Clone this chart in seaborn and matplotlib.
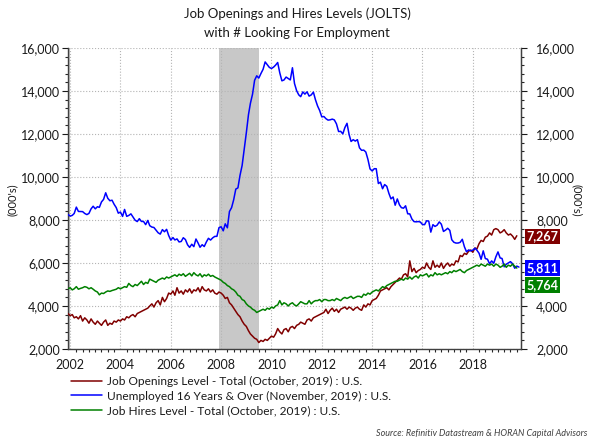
import pandas as pd
import matplotlib
matplotlib.use('Agg')
import matplotlib.pyplot as plt
import matplotlib.dates as mdates
from matplotlib.lines import Line2D
from matplotlib.ticker import MultipleLocator, FuncFormatter
import seaborn as sns

# monthly values (thousands), first month Dec 2001
openings = [3650,
    3550, 3600, 3450, 3500, 3400, 3550, 3300, 3450, 3350, 3200, 3400, 3250,
    3150, 3300, 3200, 3100, 3250, 3350, 3100, 3200, 3150, 3300, 3250, 3350,
    3300, 3400, 3350, 3500, 3450, 3550, 3600, 3500, 3650, 3700, 3750, 3800,
    3850, 3900, 4000, 4100, 3950, 4150, 4250, 4050, 4400, 4200, 4350, 4600,
    4550, 4700, 4500, 4850, 4600, 4700, 4550, 4750, 4650, 4800, 4600, 4750,
    4700, 4850, 4650, 4900, 4750, 4700, 4800, 4650, 4750, 4600, 4550, 4650,
    4600, 4500, 4350, 4400, 4150, 4050, 3900, 3750, 3600, 3500, 3300, 3150,
    3050, 2850, 2700, 2600, 2500, 2450, 2300, 2400, 2350, 2450, 2400, 2500,
    2600, 2550, 2700, 2950, 2800, 2700, 2900, 2950, 2800, 3000, 3050, 2950,
    3100, 3150, 3250, 3200, 3150, 3350, 3400, 3300, 3450, 3500, 3550, 3600,
    3650, 3700, 3850, 3650, 3800, 3900, 3750, 3850, 3700, 3850, 3900, 3950,
    3850, 3950, 3900, 3800, 3900, 3950, 3850, 3800, 4050, 3950, 4100, 4050,
    4250, 4300, 4350, 4500, 4700, 4750, 4800, 4850, 4750, 4900, 5000, 5100,
    5200, 5300, 5250, 5450, 5500, 5350, 6100, 5600, 5750, 5550, 5650, 5700,
    5800, 5750, 6000, 5800, 5700, 6100, 5800, 5900, 5800, 6000, 5750, 5900,
    6000, 5850, 5950, 5900, 6100, 6050, 6350, 6300, 6450, 6400, 6550, 6600,
    6500, 6700, 6650, 6900, 7050, 7000, 7200, 7250, 7400, 7300, 7550, 7600,
    7550, 7400, 7450, 7550, 7400, 7300, 7350, 7250, 7100, 7267]

unemployed = [8258,
    8182, 8215, 8304, 8599, 8399, 8393, 8390, 8304, 8251, 8307, 8520, 8640,
    8520, 8618, 8588, 8842, 8957, 9266, 9011, 8896, 8921, 8732, 8576, 8317,
    8370, 8167, 8491, 8170, 8212, 8286, 8136, 7990, 7927, 8061, 7932, 7934,
    7784, 7980, 7737, 7672, 7651, 7524, 7406, 7345, 7553, 7453, 7566, 7279,
    7064, 7184, 7072, 7120, 6980, 7001, 7175, 7091, 6847, 6727, 6872, 6762,
    7116, 6927, 6731, 6850, 6766, 6979, 7149, 7067, 7170, 7237, 7240, 7645,
    7685, 7497, 7822, 7637, 8395, 8575, 8937, 9438, 9494, 10074, 10538, 11286,
    12058, 12898, 13426, 13853, 14499, 14707, 14601, 14814, 15009, 15352, 15219, 15098,
    15046, 15113, 15202, 15325, 14849, 14474, 14512, 14648, 14579, 14516, 15081, 14348,
    14013, 13820, 13737, 13957, 13855, 13962, 13763, 13818, 13948, 13594, 13302, 13093,
    12797, 12813, 12713, 12646, 12660, 12692, 12656, 12471, 12115, 12124, 12005, 12298,
    12497, 11967, 11653, 11735, 11671, 11736, 11357, 11241, 11251, 11161, 10814, 10376,
    10280, 10387, 10384, 9696, 9761, 9453, 9648, 9568, 9237, 8983, 9071, 8688,
    8979, 8705, 8575, 8549, 8660, 8289, 8283, 8044, 7924, 7914, 7927, 7907,
    7791, 7784, 7964, 7948, 7436, 7783, 7701, 7760, 7911, 7804, 7468, 7530,
    7615, 7516, 7082, 6964, 6927, 6928, 6961, 7103, 6753, 6524, 6607, 6564,
    6600, 6688, 6595, 6456, 6171, 6565, 6207, 6177, 5963, 6097, 5987, 6286,
    6516, 6235, 6211, 5824, 5942, 6001, 6063, 5966, 5757, 5855, 5811]

hires = [4800,
    4850, 4750, 4800, 4900, 4780, 4820, 4850, 4900, 4870, 4800, 4850, 4780,
    4700, 4650, 4520, 4600, 4580, 4650, 4700, 4680, 4720, 4750, 4780, 4850,
    4800, 4850, 4900, 4870, 5050, 4950, 4900, 5000, 4950, 5050, 5150, 5000,
    5100, 5050, 5250, 5200, 5150, 5100, 5200, 5250, 5300, 5250, 5350, 5300,
    5350, 5400, 5450, 5380, 5480, 5420, 5500, 5380, 5450, 5520, 5400, 5550,
    5450, 5400, 5500, 5350, 5450, 5400, 5480, 5380, 5420, 5350, 5300, 5250,
    5200, 5100, 5050, 4950, 4900, 4800, 4750, 4650, 4500, 4450, 4300, 4250,
    4100, 4000, 3950, 3850, 3800, 3700, 3750, 3800, 3850, 3800, 3900, 3850,
    3950, 3900, 4000, 4050, 4250, 4050, 4150, 4100, 4000, 4100, 4150, 4050,
    4000, 4100, 4200, 4150, 4100, 4100, 4250, 4100, 4200, 4250, 4250, 4300,
    4200, 4300, 4300, 4250, 4250, 4300, 4250, 4350, 4300, 4250, 4350, 4400,
    4350, 4400, 4450, 4350, 4400, 4450, 4450, 4400, 4550, 4500, 4600, 4550,
    4650, 4700, 4750, 4700, 4800, 4900, 4850, 4950, 5000, 5050, 5100, 5150,
    5150, 5200, 5250, 5200, 5300, 5250, 5350, 5250, 5350, 5400, 5300, 5450,
    5400, 5450, 5500, 5350, 5450, 5400, 5550, 5450, 5500, 5450, 5500, 5550,
    5500, 5600, 5550, 5650, 5600, 5650, 5700, 5600, 5550, 5650, 5700, 5750,
    5800, 5850, 5900, 5850, 5950, 5900, 5850, 5950, 5900, 5950, 5850, 5950,
    5900, 5800, 5850, 5950, 5800, 5900, 5850, 5950, 5850, 5764]

series_names = ['Job Openings Level - Total (October, 2019) : U.S.',
                'Unemployed 16 Years & Over (November, 2019) : U.S.',
                'Job Hires Level - Total (October, 2019) : U.S.']
series_colors = ['#800000', '#0000ff', '#008000']
recessions = [('2001-03-01', '2001-12-31'), ('2007-12-01', '2009-06-30')]

start = '2001-12-01'
frames = []
for name, vals in zip(series_names, [openings, unemployed, hires]):
    frames.append(pd.DataFrame({'date': pd.date_range(start, periods=len(vals), freq='MS'),
                                'value': vals, 'series': name}))
df = pd.concat(frames, ignore_index=True)

sns.set_style('white')
plt.rcParams['font.family'] = ['Lato', 'DejaVu Sans']
txt = '#1a1a1a'

fig = plt.figure(figsize=(5.92, 4.42), dpi=100)
ax = fig.add_axes([68/592, 1-349/442, (521-68)/592, (349-48)/442])

for a, b in recessions:
    ax.axvspan(pd.Timestamp(a), pd.Timestamp(b), color='#c8c8c8', lw=0, zorder=0)

sns.lineplot(data=df, x='date', y='value', hue='series', hue_order=series_names,
             palette=dict(zip(series_names, series_colors)), linewidth=1.1,
             legend=False, ax=ax, zorder=3)

ax.set_xlim(pd.Timestamp('2001-12-01'), pd.Timestamp('2019-12-01'))
ax.set_ylim(2000, 16000)
ax.set_xlabel('')
ax.set_ylabel('')

fmt = FuncFormatter(lambda v, p: f'{v:,.0f}')
ax.yaxis.set_major_locator(MultipleLocator(2000))
ax.yaxis.set_minor_locator(MultipleLocator(400))
ax.yaxis.set_major_formatter(fmt)
ax.xaxis.set_major_locator(mdates.YearLocator(2))
ax.xaxis.set_minor_locator(mdates.MonthLocator(bymonth=[1, 4, 7, 10]))
ax.xaxis.set_major_formatter(mdates.DateFormatter('%Y'))

ax.grid(True, which='major', linestyle=':', color='#b4b4b4', linewidth=0.8)
ax.tick_params(axis='y', which='major', length=4, width=0.8, pad=2, labelsize=9, colors=txt)
ax.tick_params(axis='y', which='minor', length=2, width=0.8, left=True)
ax.tick_params(axis='x', which='major', length=3, width=0.8, pad=4, labelsize=9, colors=txt)
ax.tick_params(axis='x', which='minor', length=2, width=0.8, bottom=True)
for s in ['left', 'bottom', 'right']:
    ax.spines[s].set_color('#404040')
    ax.spines[s].set_linewidth(1)
ax.spines['top'].set_visible(False)

# the 6,000 label on the right sits under the value boxes, so it is left blank
ax2 = ax.twinx()
ax2.set_ylim(ax.get_ylim())
ax2.yaxis.set_major_locator(MultipleLocator(2000))
ax2.yaxis.set_minor_locator(MultipleLocator(400))
ax2.yaxis.set_major_formatter(FuncFormatter(lambda v, p: '' if v == 6000 else f'{v:,.0f}'))
ax2.tick_params(axis='y', which='major', length=4, width=0.8, pad=7, labelsize=9, colors=txt)
ax2.tick_params(axis='y', which='minor', length=2, width=0.8, right=True)
for s in ['top', 'left', 'bottom']:
    ax2.spines[s].set_visible(False)
ax2.spines['right'].set_color('#404040')

# end value boxes, pushed apart when they would overlap
gap = 790
prev = None
lasts = sorted([(v[-1], c) for v, c in zip([openings, unemployed, hires], series_colors)], reverse=True)
for v, c in lasts:
    y = v if prev is None else min(v, prev - gap)
    prev = y
    ax2.annotate(f'{v:,}', xy=(1, y), xycoords=ax2.get_yaxis_transform(),
                 xytext=(4, -0.5), textcoords='offset points', ha='left', va='center',
                 color='white', fontweight='bold', fontsize=9,
                 bbox=dict(boxstyle='square,pad=0.15', fc=c, ec='none'), annotation_clip=False)

fig.text(297/592, 1-14/442, 'Job Openings and Hires Levels (JOLTS)', ha='center', va='center',
         fontsize=9.5, color=txt)
fig.text(297/592, 1-33/442, 'with # Looking For Employment', ha='center', va='center',
         fontsize=9.5, color=txt)
fig.text(12/592, 1-200/442, "(000's)", rotation=90, ha='center', va='center', fontsize=8, color=txt)
fig.text(577/592, 1-200/442, "(000's)", rotation=270, ha='center', va='center', fontsize=8, color=txt)

handles = [Line2D([], [], color=c, lw=1.1) for c in series_colors]
fig.legend(handles, series_names, loc='upper left', bbox_to_anchor=(71/592, 1-376/442),
           frameon=False, fontsize=8.6, handlelength=2.6, handletextpad=0.4,
           labelspacing=0.3, borderpad=0, borderaxespad=0, labelcolor=txt)

fig.text(587/592, 1-433/442, 'Source: Refinitiv Datastream & HORAN Capital Advisors',
         ha='right', va='center', fontsize=6.5, style='italic', color='#404040')

fig.savefig('out.png', dpi=100)
